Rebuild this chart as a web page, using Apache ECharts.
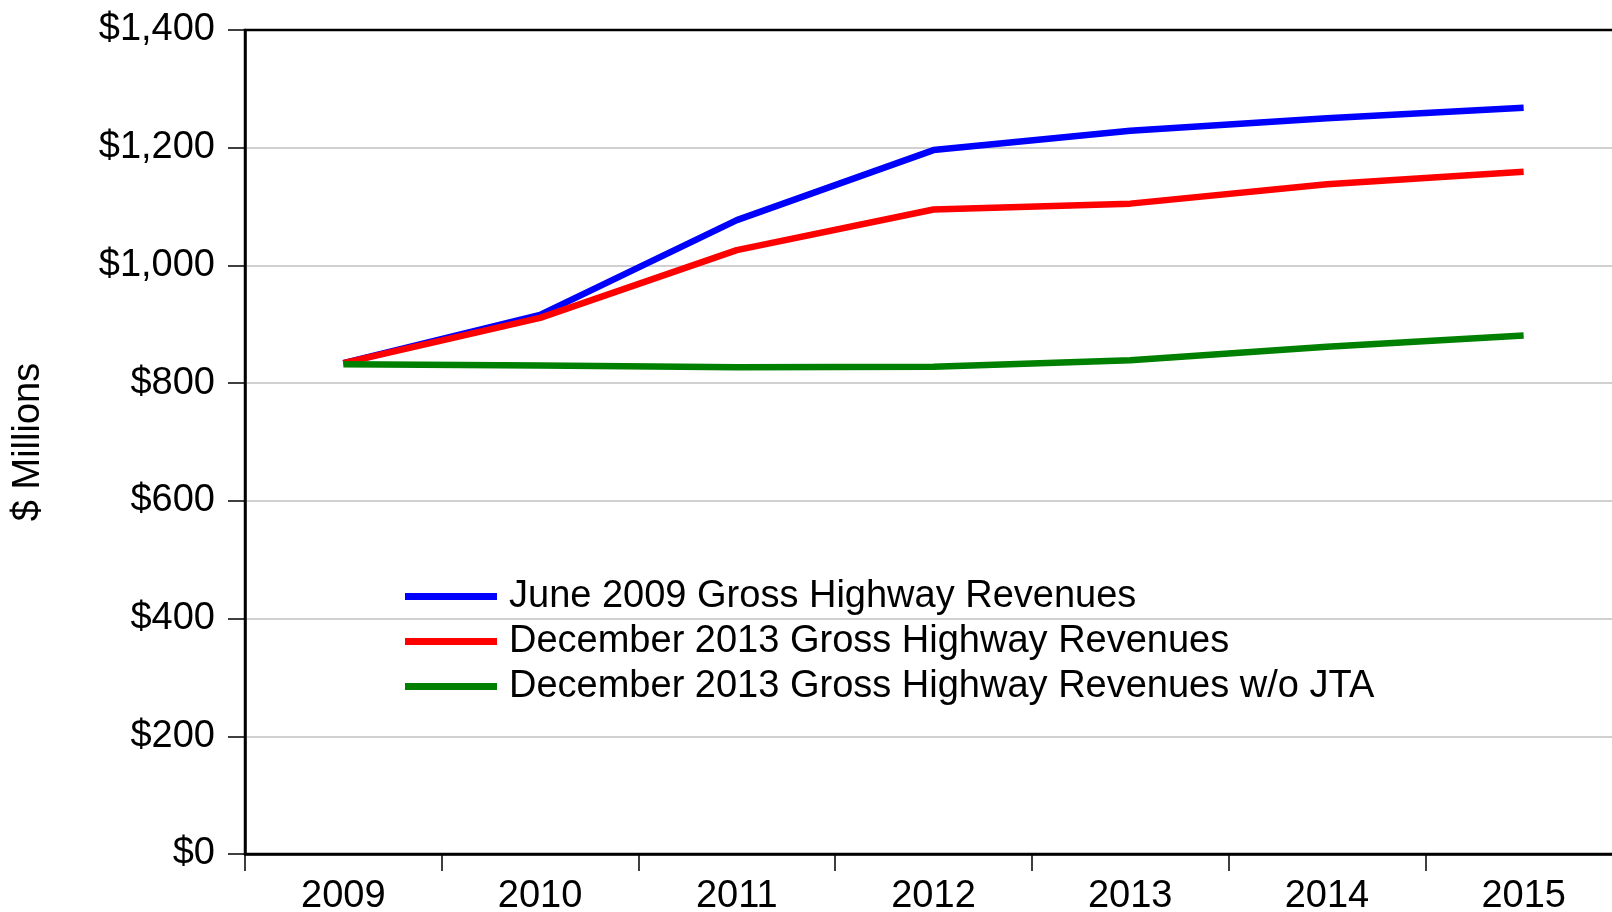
<!DOCTYPE html>
<html>
<head>
<meta charset="utf-8">
<script src="https://cdn.jsdelivr.net/npm/echarts@6/dist/echarts.min.js"></script>
<style>
  html, body { margin: 0; padding: 0; background: #fff; }
  #chart { width: 1612px; height: 912px; }
</style>
</head>
<body>
<div id="chart"></div>
<script>
const years = ['2009', '2010', '2011', '2012', '2013', '2014', '2015'];
const june2009 = [834, 916, 1077, 1196, 1229, 1250, 1268];
const dec2013 = [834, 911, 1026, 1095, 1105, 1138, 1159];
const dec2013NoJta = [832, 830, 827, 828, 839, 862, 881];

const chart = echarts.init(document.getElementById('chart'), null, { renderer: 'canvas' });

const fontFamily = '"Liberation Sans", Arial, sans-serif';

chart.setOption({
  animation: false,
  backgroundColor: '#fff',
  textStyle: { fontFamily: fontFamily, color: '#000' },
  grid: {
    left: 245,
    top: 30,
    width: 1377,
    bottom: 58,
    outerBoundsMode: 'none',
    containLabel: false,
    show: true,
    borderColor: '#000',
    borderWidth: 2.5,
  },
  legend: {
    orient: 'vertical',
    left: 400,
    top: 569,
    icon: 'rect',
    itemWidth: 92,
    itemHeight: 7,
    itemGap: 0,
    selectedMode: false,
    textStyle: { fontSize: 38, color: '#000', lineHeight: 45, fontFamily: fontFamily, padding: [0, 0, 0, 7] },
    data: [
      'June 2009 Gross Highway Revenues',
      'December 2013 Gross Highway Revenues',
      'December 2013 Gross Highway Revenues w/o JTA',
    ],
  },
  xAxis: {
    type: 'category',
    data: years,
    boundaryGap: true,
    axisLine: { show: true, lineStyle: { color: '#000', width: 2.5 } },
    axisTick: { show: true, length: 17, lineStyle: { color: '#000', width: 1.5 } },
    axisLabel: { fontSize: 38, color: '#000', margin: 24, fontFamily: fontFamily },
    splitLine: { show: false },
  },
  yAxis: {
    type: 'value',
    min: 0,
    max: 1400,
    interval: 200,
    name: '$ Millions',
    nameLocation: 'middle',
    nameGap: 197,
    nameRotate: 90,
    nameTextStyle: { fontSize: 38, color: '#000', fontFamily: fontFamily },
    axisLine: { show: true, lineStyle: { color: '#000', width: 2.5 } },
    axisTick: { show: true, length: 17, lineStyle: { color: '#000', width: 1.5 } },
    axisLabel: {
      fontSize: 38,
      color: '#000',
      margin: 30,
      fontFamily: fontFamily,
      formatter: function (v) {
        return '$' + v.toLocaleString('en-US');
      },
    },
    splitLine: { show: true, showMaxLine: false, showMinLine: false, lineStyle: { color: '#c0c0c0', width: 1.5 } },
  },
  series: [
    {
      name: 'June 2009 Gross Highway Revenues',
      type: 'line',
      data: june2009,
      symbol: 'none',
      color: '#0000ff',
      lineStyle: { color: '#0000ff', width: 6.5 },
    },
    {
      name: 'December 2013 Gross Highway Revenues',
      type: 'line',
      data: dec2013,
      symbol: 'none',
      color: '#ff0000',
      lineStyle: { color: '#ff0000', width: 6.5 },
    },
    {
      name: 'December 2013 Gross Highway Revenues w/o JTA',
      type: 'line',
      data: dec2013NoJta,
      symbol: 'none',
      color: '#008000',
      lineStyle: { color: '#008000', width: 6.5 },
    },
  ],
});
</script>
</body>
</html>
